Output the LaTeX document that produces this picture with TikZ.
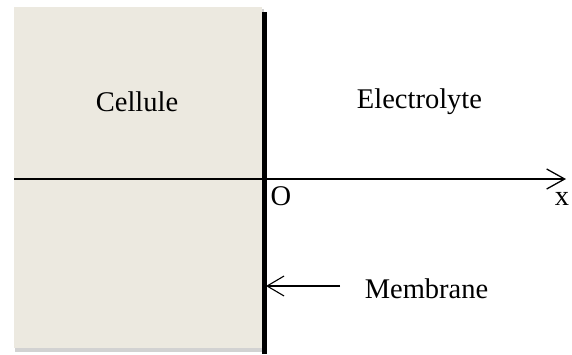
\documentclass[tikz,border=0pt]{standalone}
\usepackage{fontspec}
\setmainfont{Liberation Serif}
\usetikzlibrary{arrows.meta}
\definecolor{cellfill}{HTML}{ECE9E0}
\tikzset{
  lbl/.style={font=\fontsize{28.5}{32}\selectfont, inner sep=0pt},
  axis/.style={line width=1.4pt},
  open tip/.style={-{Straight Barb[length=18pt,width=20pt,line width=1.3pt]}}
}
\begin{document}
\begin{tikzpicture}[x=1pt,y=-1pt]
  \useasboundingbox (0,0) rectangle (572,354);
  % cell compartment with a faint shadow
  \fill[gray!35] (15,9) rectangle (264,352);
  \fill[cellfill] (14,7) rectangle (262,348);
  % membrane
  \coordinate (mtop) at (264.5,12);
  \coordinate (mbot) at (264.5,354);
  \draw[line width=4.5pt] (mtop) -- (mbot);
  % x axis
  \coordinate (xstart) at (14,179);
  \coordinate (xend) at (566,179);
  \draw[axis, open tip] (xstart) -- (xend);
  % labels
  \node[lbl] (cell) at (137,102) {Cellule};
  \node[lbl] (elec) at (419.5,102) {Electrolyte};
  \node[lbl] (orig) at (281,196) {O};
  \node[lbl] (xlab) at (562,199) {x};
  \node[lbl] (mem) at (426.5,289) {Membrane};
  % pointer to the membrane
  \coordinate (mtail) at (340,286);
  \coordinate (mhead) at (266,286);
  \draw[line width=1.1pt, -{Straight Barb[length=17pt,width=20pt,line width=1.1pt]}] (mtail) -- (mhead);
\end{tikzpicture}
\end{document}
